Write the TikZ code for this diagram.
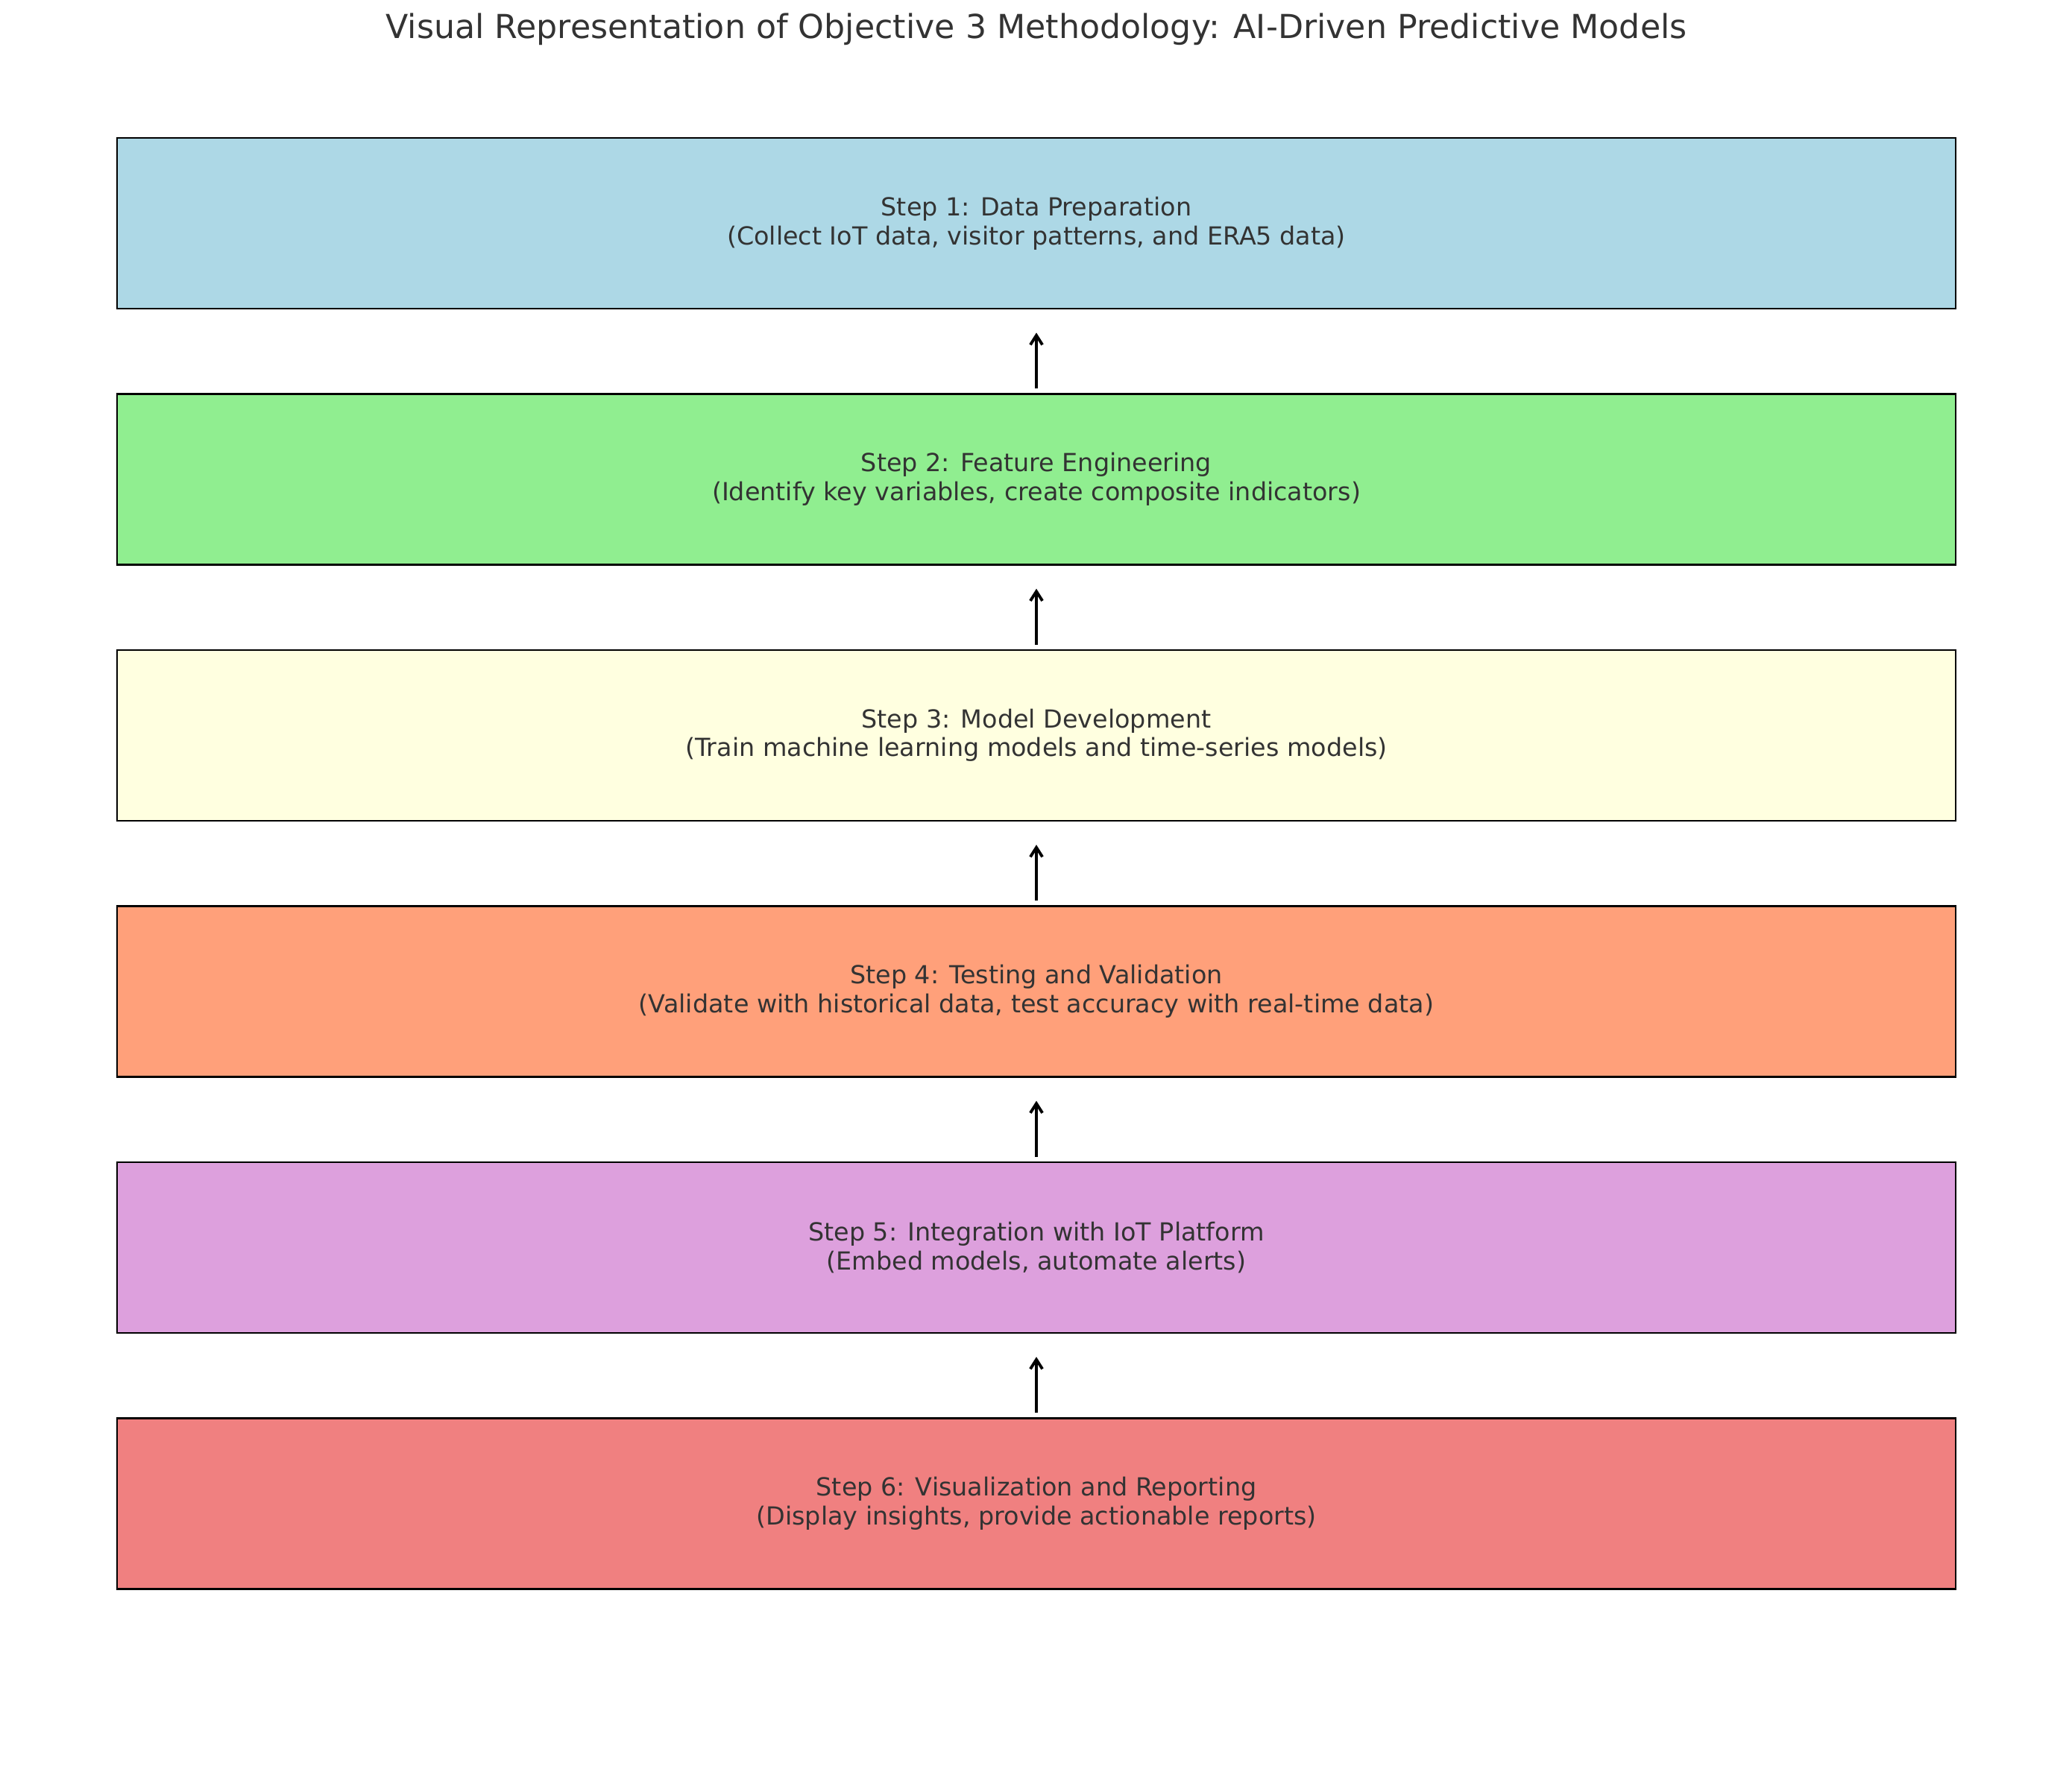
\documentclass[tikz,border=0pt]{standalone}
\usepackage{fontspec}
\setmainfont{DejaVu Sans}
\usetikzlibrary{arrows.meta,positioning}

\definecolor{txtgray}{RGB}{51,51,51}
\definecolor{clightblue}{HTML}{ADD8E6}
\definecolor{clightgreen}{HTML}{90EE90}
\definecolor{clightyellow}{HTML}{FFFFE0}
\definecolor{clightsalmon}{HTML}{FFA07A}
\definecolor{cplum}{HTML}{DDA0DD}
\definecolor{clightcoral}{HTML}{F08080}

\begin{document}
\begin{tikzpicture}[
  >={Straight Barb[length=3.6pt, width=4.6pt, line width=1.1pt]},
  stepbox/.style={draw, line width=0.7pt, minimum width=24.66cm, minimum height=2.29cm, align=center, text=txtgray, font=\fontsize{9.5}{11}\selectfont, inner sep=0pt},
  flow/.style={->, line width=1.1pt}
]

\useasboundingbox (0,0) rectangle (27.79,-23.80);

\node[text=txtgray, font=\fontsize{12.6}{15}\selectfont] (title) at (13.90,-0.39) {Visual Representation of Objective 3 Methodology: AI-Driven Predictive Models};

% Steps, top to bottom
\node[stepbox, fill=clightblue] (step1) at (13.90,-2.995) {Step 1: Data Preparation\\(Collect IoT data, visitor patterns, and ERA5 data)};
\node[stepbox, fill=clightgreen, below=1.12cm of step1] (step2) {Step 2: Feature Engineering\\(Identify key variables, create composite indicators)};
\node[stepbox, fill=clightyellow, below=1.12cm of step2] (step3) {Step 3: Model Development\\(Train machine learning models and time-series models)};
\node[stepbox, fill=clightsalmon, below=1.12cm of step3] (step4) {Step 4: Testing and Validation\\(Validate with historical data, test accuracy with real-time data)};
\node[stepbox, fill=cplum, below=1.12cm of step4] (step5) {Step 5: Integration with IoT Platform\\(Embed models, automate alerts)};
\node[stepbox, fill=clightcoral, below=1.12cm of step5] (step6) {Step 6: Visualization and Reporting\\(Display insights, provide actionable reports)};

% Arrows point upwards
\draw[flow] ([yshift=0.06cm]step2.north) -- ([yshift=-0.31cm]step1.south);
\draw[flow] ([yshift=0.06cm]step3.north) -- ([yshift=-0.31cm]step2.south);
\draw[flow] ([yshift=0.06cm]step4.north) -- ([yshift=-0.31cm]step3.south);
\draw[flow] ([yshift=0.06cm]step5.north) -- ([yshift=-0.31cm]step4.south);
\draw[flow] ([yshift=0.06cm]step6.north) -- ([yshift=-0.31cm]step5.south);

\end{tikzpicture}
\end{document}
